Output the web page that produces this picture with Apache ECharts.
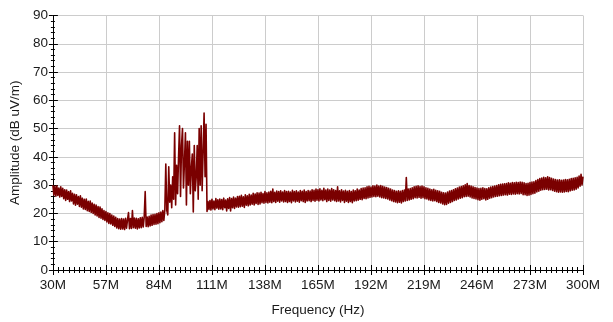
<!DOCTYPE html>
<html>
<head>
<meta charset="utf-8">
<script src="https://cdn.jsdelivr.net/npm/echarts@6/dist/echarts.min.js"></script>
<style>
html,body{margin:0;padding:0;background:#fff;}
#chart{width:613px;height:322px;}
</style>
</head>
<body>
<div id="chart"></div>
<script>
// Frequency sampling grid (MHz): 30 .. 300 in 0.5 MHz steps
const freqStart = 30;
const freqStep = 0.5;
// Amplitude (dB uV/m), one row per 5 MHz (10 samples each)
const amplitude = [
  30.0,26.5,29.6,26.1,29.8,26.4,29.0,25.8,29.4,26.0, // 30
  28.9,25.2,28.4,24.6,28.3,25.0,27.7,24.2,28.0,24.4, // 35
  27.1,23.4,26.8,22.9,26.6,23.3,26.0,22.5,26.2,22.2, // 40
  25.4,21.6,25.0,21.4,25.1,21.0,24.3,20.7,24.4,20.4, // 45
  23.7,20.0,23.2,19.5,23.0,19.1,22.4,18.6,22.3,18.3, // 50
  21.6,17.9,21.0,17.5,20.7,17.0,20.2,16.5,20.0,16.3, // 55
  19.4,15.8,19.1,15.4,18.6,14.9,18.2,14.6,18.0,14.4, // 60
  18.2,14.5,18.0,14.3,18.3,14.8,17.8,20.3,14.6,18.2, // 65
  14.7,21.0,15.0,18.4,14.8,18.3,14.5,18.1,14.9,18.5, // 70
  15.0,18.6,15.2,18.8,27.7,15.4,18.7,15.3,19.0,15.6, // 75
  19.4,15.8,19.6,16.1,19.7,16.2,20.0,16.4,20.2,16.7, // 80
  20.5,17.1,21.0,17.5,21.2,37.5,21.0,19.5,36.5,24.0, // 85
  30.0,22.0,33.0,25.0,48.5,23.0,37.0,27.0,40.0,51.0, // 90
  26.0,44.0,50.0,29.0,38.0,48.5,23.0,45.5,30.0,45.5, // 95
  27.0,36.0,41.0,20.5,44.0,28.0,33.0,44.0,25.0,50.0, // 100
  30.0,51.0,28.0,42.0,55.5,33.0,51.5,20.7,24.2,21.4, // 105
  24.6,21.2,25.0,21.6,24.4,21.3,25.3,21.9,24.8,21.5, // 110
  25.1,21.6,24.9,21.3,25.4,22.0,24.7,20.9,25.2,21.8, // 115
  25.6,20.9,25.3,22.0,25.8,21.8,25.4,22.3,26.0,22.2, // 120
  26.1,22.4,26.4,22.6,25.9,22.1,26.6,22.9,26.2,22.7, // 125
  26.8,23.0,26.5,23.3,27.1,23.0,26.9,23.5,27.3,23.2, // 130
  27.2,23.4,27.5,23.8,27.0,23.6,27.7,23.9,27.3,23.7, // 135
  27.6,24.0,27.8,23.8,28.6,24.2,27.5,23.9,27.9,24.3, // 140
  27.7,24.0,28.0,24.4,27.6,24.1,28.1,24.2,27.7,23.9, // 145
  27.8,24.2,27.6,23.8,28.2,24.4,27.7,24.1,28.0,24.3, // 150
  27.6,24.0,28.1,24.5,27.8,24.2,28.3,23.9,27.7,24.4, // 155
  28.1,24.5,27.9,24.2,28.4,24.6,28.2,24.3,28.6,24.7, // 160
  28.4,24.4,28.7,24.8,28.2,24.5,28.9,24.9,28.3,24.2, // 165
  28.6,24.6,28.3,24.3,28.8,24.8,28.4,24.5,28.1,24.2, // 170
  29.4,24.4,28.0,24.1,28.4,24.6,27.9,23.9,28.2,24.3, // 175
  27.8,23.9,28.1,24.2,27.7,23.8,28.3,24.4,28.0,24.5, // 180
  28.6,24.7,28.3,25.0,28.8,24.9,29.0,25.3,29.1,25.2, // 185
  29.4,25.5,29.6,25.7,29.3,25.8,29.8,26.0,29.7,25.9, // 190
  30.0,26.1,29.7,25.8,29.9,25.6,29.6,25.5,29.3,25.3, // 195
  29.2,25.1,28.9,24.8,28.6,24.5,28.3,24.2,28.1,24.1, // 200
  27.8,23.8,28.0,24.0,27.8,23.7,28.1,24.2,28.3,24.4, // 205
  32.7,24.6,28.6,24.8,28.8,25.0,29.1,25.2,29.4,25.6, // 210
  29.6,25.5,29.8,25.7,29.5,25.4,29.7,25.6,29.4,25.2, // 215
  29.1,25.1,28.9,24.8,28.6,24.6,28.4,24.4,28.5,24.5, // 220
  28.2,24.2,28.0,23.9,27.8,23.7,27.5,23.4,27.3,23.1, // 225
  27.2,23.2,27.6,23.6,27.9,23.9,28.1,24.2,28.4,24.6, // 230
  28.7,24.8,29.0,25.1,29.3,25.4,29.5,25.6,29.8,25.9, // 235
  30.1,26.0,30.6,26.1,29.9,25.8,29.7,25.5,29.4,25.3, // 240
  29.2,25.1,29.0,24.9,28.8,24.7,28.9,25.0,29.1,25.2, // 245
  28.8,24.8,28.7,25.0,29.1,25.4,29.3,25.6,29.5,25.8, // 250
  29.7,26.0,29.9,26.1,30.1,26.3,30.3,26.4,30.4,26.5, // 255
  30.5,26.6,30.6,26.5,30.8,26.8,30.7,26.7,30.9,26.9, // 260
  30.8,26.8,31.0,27.0,30.9,26.9,31.1,27.1,31.0,26.6, // 265
  30.8,26.6,30.6,26.4,30.7,26.5,30.9,26.7,31.1,27.0, // 270
  31.2,27.2,31.6,27.6,32.0,27.9,32.3,28.2,32.5,28.4, // 275
  32.8,28.5,32.6,28.6,33.0,28.3,32.7,28.4,32.4,28.1, // 280
  32.2,27.9,32.0,27.7,31.8,27.5,31.9,27.6,31.7,27.5, // 285
  31.8,27.6,32.0,27.8,31.9,27.7,32.1,28.0,32.3,28.2, // 290
  32.4,28.3,32.6,28.6,32.8,29.0,33.2,29.6,33.8,30.1, // 295
  33.0                                               // 300
];
const xTicks = [30, 57, 84, 111, 138, 165, 192, 219, 246, 273, 300];
const yTicks = [0, 10, 20, 30, 40, 50, 60, 70, 80, 90];

const seriesData = amplitude.map((v, i) => [freqStart + i * freqStep, v]);

const font = "'Liberation Sans', Arial, sans-serif";
const txt = '#1a1a1a';

const chart = echarts.init(document.getElementById('chart'), null, {renderer: 'canvas'});
const baseX = {
  type: 'value', min: xTicks[0], max: xTicks[xTicks.length - 1],
  interval: xTicks[1] - xTicks[0], position: 'bottom', gridIndex: 0
};
const baseY = {
  type: 'value', min: yTicks[0], max: yTicks[yTicks.length - 1],
  interval: yTicks[1] - yTicks[0], position: 'left', gridIndex: 0
};
chart.setOption({
  animation: false,
  backgroundColor: '#ffffff',
  grid: {left: 52.5, right: 30, top: 15.5, bottom: 50, containLabel: false},
  xAxis: [
    Object.assign({}, baseX, {
      name: 'Frequency (Hz)', nameLocation: 'middle', nameGap: 33,
      nameTextStyle: {fontFamily: font, fontSize: 13.5, color: txt},
      axisLine: {show: true, lineStyle: {color: '#000', width: 1}},
      axisTick: {show: true, inside: false, length: 5, lineStyle: {color: '#000'}},
      minorTick: {show: true, splitNumber: 10, length: 3, lineStyle: {color: '#000'}},
      axisLabel: {fontFamily: font, fontSize: 13.5, color: txt, margin: 8,
        formatter: v => v + 'M'},
      splitLine: {show: true, lineStyle: {color: '#cccccc', width: 1}}
    }),
    Object.assign({}, baseX, {
      axisLine: {show: false},
      axisTick: {show: true, inside: true, length: 5, lineStyle: {color: '#000'}},
      minorTick: {show: true, splitNumber: 10, length: 3, lineStyle: {color: '#000'}},
      axisLabel: {show: false},
      splitLine: {show: false}
    })
  ],
  yAxis: [
    Object.assign({}, baseY, {
      name: 'Amplitude (dB uV/m)', nameLocation: 'middle', nameGap: 16, nameRotate: 90,
      nameTextStyle: {fontFamily: font, fontSize: 13.5, color: txt},
      axisLine: {show: true, lineStyle: {color: '#000', width: 1}},
      axisTick: {show: true, inside: false, length: 4, lineStyle: {color: '#000'}},
      minorTick: {show: true, splitNumber: 5, length: 2, lineStyle: {color: '#000'}},
      axisLabel: {fontFamily: font, fontSize: 13.5, color: txt, margin: 5},
      splitLine: {show: true, lineStyle: {color: '#cccccc', width: 1}}
    }),
    Object.assign({}, baseY, {
      axisLine: {show: false},
      axisTick: {show: true, inside: true, length: 5, lineStyle: {color: '#000'}},
      minorTick: {show: true, splitNumber: 5, length: 2, lineStyle: {color: '#000'}},
      axisLabel: {show: false},
      splitLine: {show: false}
    })
  ],
  series: [{
    type: 'line',
    xAxisIndex: 0, yAxisIndex: 0,
    data: seriesData,
    showSymbol: false,
    symbol: 'none',
    lineStyle: {color: '#7a0000', width: 1.6, join: 'round'},
    itemStyle: {color: '#7a0000'},
    z: 3
  }]
});
</script>
</body>
</html>
